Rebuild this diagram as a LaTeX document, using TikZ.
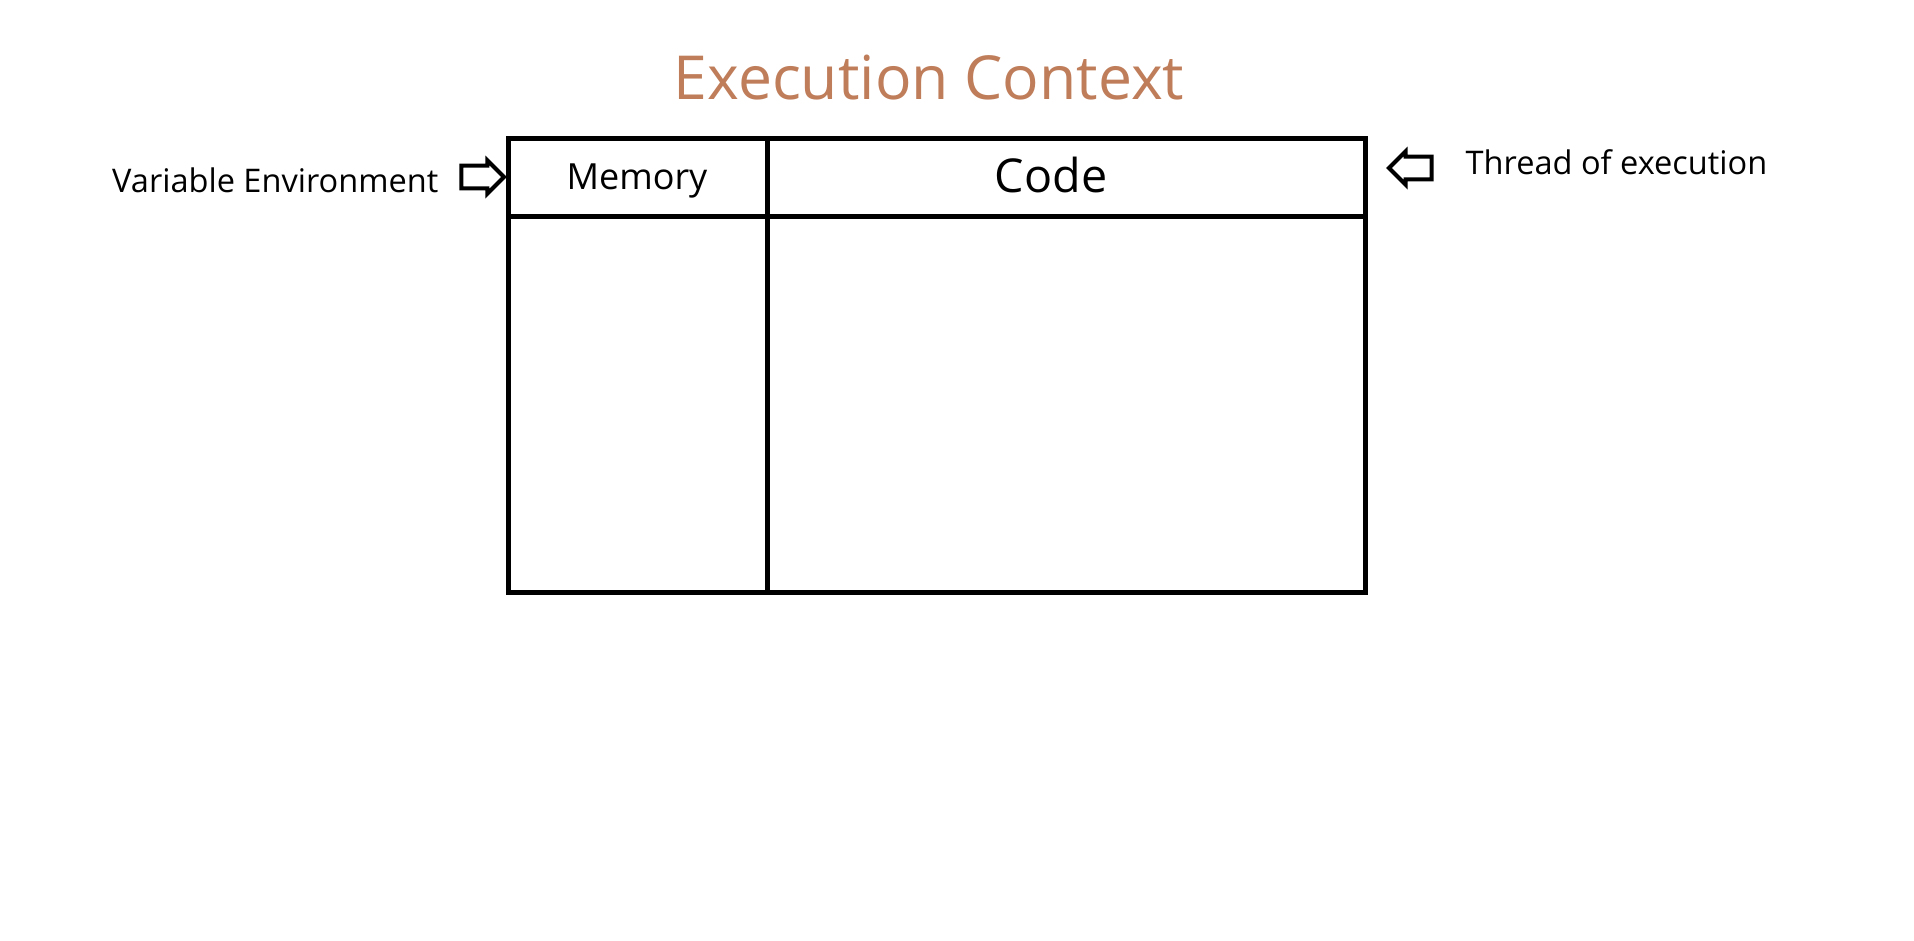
\documentclass[tikz,border=0pt]{standalone}
\usepackage{fontspec}
\setmainfont{Open Sans}
\usetikzlibrary{shapes.arrows}
\definecolor{titlebrown}{RGB}{191,125,90}
\tikzset{
  frame/.style={line width=3.75pt},
  hollow arrow/.style={single arrow, draw, line width=3pt, inner xsep=0pt, inner ysep=7pt,
    minimum height=32pt, minimum width=25pt, single arrow head extend=4pt},
  label text/.style={font=\fontsize{24.4}{28}\selectfont}
}
\begin{document}
\begin{tikzpicture}[x=0.75pt,y=-0.75pt]
  \useasboundingbox (0,0) rectangle (1914,940);
  \node (title) at (929,78) {\color{titlebrown}\fontsize{45.5}{54}\selectfont Execution Context};
  \draw[frame] (508,138) rectangle (1365,592);
  \draw[frame] (767,138) -- (767,592);
  \draw[frame] (508,216) -- (1365,216);
  \node (mem) at (637,181) {\fontsize{27}{30}\selectfont Memory};
  \node (code) at (1051,175) {\fontsize{35}{40}\selectfont Code};
  \node[label text, anchor=east] (varenv) at (443,180) {Variable Environment};
  \node[label text, anchor=west] (thread) at (1461,162) {Thread of execution};
  \node[hollow arrow] (arrL) at (477,177) {};
  \node[hollow arrow, shape border rotate=180] (arrR) at (1416,168) {};
\end{tikzpicture}
\end{document}
